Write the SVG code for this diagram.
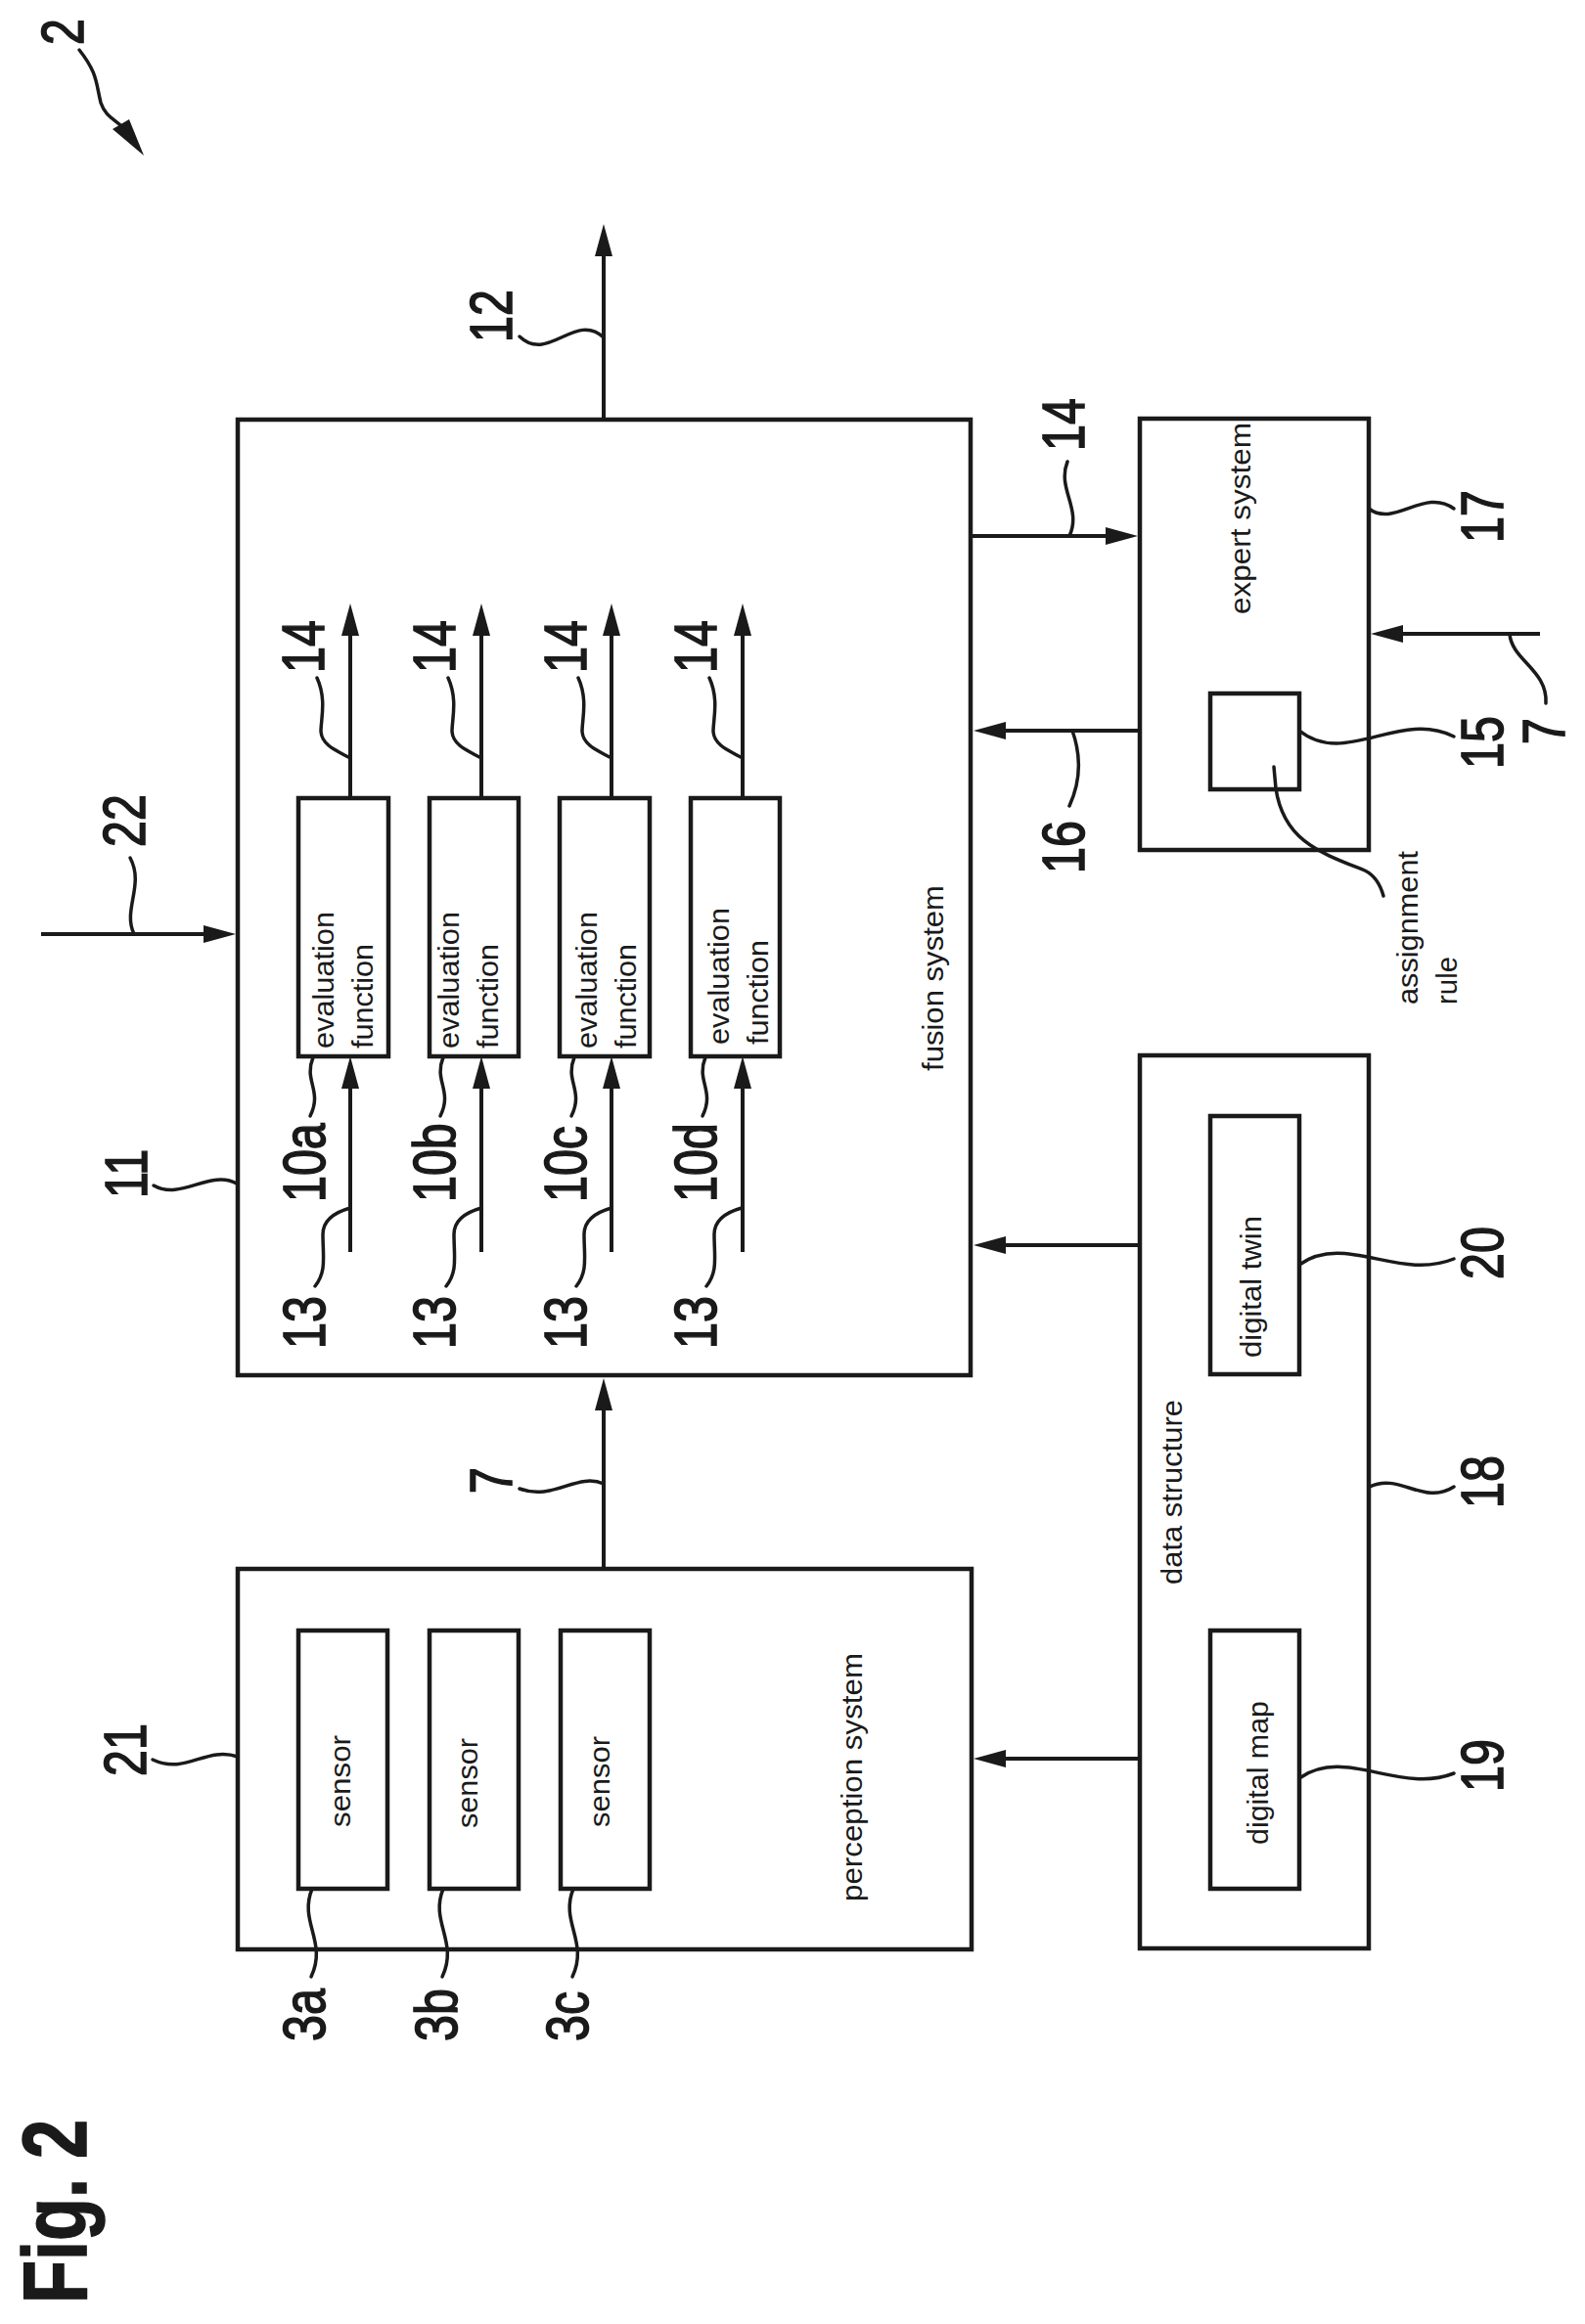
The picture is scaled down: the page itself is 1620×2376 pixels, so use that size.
<svg xmlns="http://www.w3.org/2000/svg" xmlns:xlink="http://www.w3.org/1999/xlink" width="1620" height="2376" viewBox="0 0 1620 2376">
<style>
text{font-family:"Liberation Sans",Arial,sans-serif;fill:#1a1a1a}
.box{fill:none;stroke:#1a1a1a;stroke-width:4.5}
.wire{fill:none;stroke:#1a1a1a;stroke-width:4;marker-end:url(#ah)}
.lead{fill:none;stroke:#1a1a1a;stroke-width:3.5;stroke-linecap:round}
.t{font-size:29px}
.n{font-size:62px;stroke:#1a1a1a;stroke-width:1.6px}
.fig{font-size:92px;font-weight:bold;stroke:#1a1a1a;stroke-width:1.5px}
</style>
<defs>
<marker id="ah" markerUnits="userSpaceOnUse" viewBox="0 0 33 20" refX="25" refY="10" markerWidth="33" markerHeight="20" orient="auto"><path d="M0 1L33 10L0 19Z" fill="#1a1a1a"/></marker>
<path id="l14" class="lead" d="M324 693C334 715 328 735 328 748C329 762 345 768 356 774"/>
<path id="l13" class="lead" d="M358 1235C340 1240 330 1248 330 1262C330 1285 334 1300 322 1315"/>
<path id="l10" class="lead" d="M320 1081C310 1105 330 1115 317 1141"/>
<path id="l3" class="lead" d="M319 1931C305 1965 335 1985 318 2021"/>
</defs>
<rect width="1620" height="2376" fill="#fff"/>

<g id="connectors">
<path class="wire" d="M617 429V237"/>
<path class="wire" d="M617 1604V1417"/>
<path class="wire" d="M42 955H233"/>
<path class="wire" d="M992 548H1155"/>
<path class="wire" d="M1165 747H1003"/>
<path class="wire" d="M1574 648H1409"/>
<path class="wire" d="M1165 1273H1003"/>
<path class="wire" d="M1165 1798H1003"/>
<path class="wire" d="M358 816V625"/><path class="wire" d="M492 816V625"/><path class="wire" d="M625 816V625"/><path class="wire" d="M759 816V625"/>
<path class="wire" d="M358 1280V1088"/><path class="wire" d="M492 1280V1088"/><path class="wire" d="M625 1280V1088"/><path class="wire" d="M759 1280V1088"/>
<path class="lead" d="M81 51C100 75 98 85 103 105C108 120 118 122 125 130"/>
<path d="M115 132L132 122L147 159Z" fill="#1a1a1a"/>
<path class="lead" d="M531 344C560 372 588 318 617 345"/>
<use xlink:href="#l14"/><use xlink:href="#l14" x="134"/><use xlink:href="#l14" x="267"/><use xlink:href="#l14" x="401"/>
<use xlink:href="#l13"/><use xlink:href="#l13" x="134"/><use xlink:href="#l13" x="267"/><use xlink:href="#l13" x="400"/>
<use xlink:href="#l10"/><use xlink:href="#l10" x="133"/><use xlink:href="#l10" x="267"/><use xlink:href="#l10" x="401"/>
<use xlink:href="#l3"/><use xlink:href="#l3" x="134"/><use xlink:href="#l3" x="267"/>
<path class="lead" d="M1093 548C1106 520 1080 500 1091 472"/>
<path class="lead" d="M1096 747C1106 775 1104 800 1093 824"/>
<path class="lead" d="M1399 520C1425 540 1456 498 1486 520"/>
<path class="lead" d="M1328 747C1375 785 1430 725 1486 753"/>
<path class="lead" d="M1543 648C1545 675 1582 685 1580 719"/>
<path class="lead" d="M1302 784L1304 806C1312 860 1350 872 1395 890C1405 895 1411 905 1414 916"/>
<path class="lead" d="M1328 1293C1375 1260 1430 1310 1486 1287"/>
<path class="lead" d="M1328 1818C1375 1785 1430 1835 1486 1813"/>
<path class="lead" d="M1400 1520C1430 1505 1455 1540 1486 1520"/>
<path class="lead" d="M617 1517C590 1505 565 1535 531 1522"/>
<path class="lead" d="M243 1796C210 1785 190 1815 156 1799"/>
<path class="lead" d="M137 955C125 930 148 905 133 877"/>
<path class="lead" d="M157 1212C185 1228 215 1195 242 1210"/>
</g>

<g id="fusion-system"><rect class="box" x="243" y="429" width="749" height="977"/>
<text class="t" textLength="190" lengthAdjust="spacingAndGlyphs" transform="translate(964 1095) rotate(-90)">fusion system</text></g>
<g id="eval-a"><rect class="box" x="305" y="816" width="92" height="264"/>
<text class="t" textLength="140" lengthAdjust="spacingAndGlyphs" transform="translate(341 1072) rotate(-90)">evaluation</text>
<text class="t" textLength="107" lengthAdjust="spacingAndGlyphs" transform="translate(381 1072) rotate(-90)">function</text></g>
<g id="eval-b"><rect class="box" x="439" y="816" width="91" height="264"/>
<text class="t" textLength="140" lengthAdjust="spacingAndGlyphs" transform="translate(469 1072) rotate(-90)">evaluation</text>
<text class="t" textLength="107" lengthAdjust="spacingAndGlyphs" transform="translate(509 1072) rotate(-90)">function</text></g>
<g id="eval-c"><rect class="box" x="572" y="816" width="92" height="264"/>
<text class="t" textLength="140" lengthAdjust="spacingAndGlyphs" transform="translate(610 1072) rotate(-90)">evaluation</text>
<text class="t" textLength="107" lengthAdjust="spacingAndGlyphs" transform="translate(650 1072) rotate(-90)">function</text></g>
<g id="eval-d"><rect class="box" x="706" y="816" width="91" height="264"/>
<text class="t" textLength="140" lengthAdjust="spacingAndGlyphs" transform="translate(745 1068) rotate(-90)">evaluation</text>
<text class="t" textLength="107" lengthAdjust="spacingAndGlyphs" transform="translate(785 1068) rotate(-90)">function</text></g>

<g id="perception-system"><rect class="box" x="243" y="1604" width="750" height="389"/>
<text class="t" textLength="254" lengthAdjust="spacingAndGlyphs" transform="translate(881 1944) rotate(-90)">perception system</text></g>
<g id="sensor-a"><rect class="box" x="305" y="1667" width="91" height="264"/>
<text class="t" textLength="94" lengthAdjust="spacingAndGlyphs" transform="translate(358 1868) rotate(-90)">sensor</text></g>
<g id="sensor-b"><rect class="box" x="439" y="1667" width="91" height="264"/>
<text class="t" textLength="92" lengthAdjust="spacingAndGlyphs" transform="translate(488 1869) rotate(-90)">sensor</text></g>
<g id="sensor-c"><rect class="box" x="573" y="1667" width="91" height="264"/>
<text class="t" textLength="93" lengthAdjust="spacingAndGlyphs" transform="translate(623 1868) rotate(-90)">sensor</text></g>

<g id="expert-system"><rect class="box" x="1165" y="428" width="234" height="441"/>
<text class="t" textLength="196" lengthAdjust="spacingAndGlyphs" transform="translate(1278 628) rotate(-90)">expert system</text></g>
<g id="assignment-rule"><rect class="box" x="1237" y="709" width="91" height="98"/>
<text class="t" textLength="157" lengthAdjust="spacingAndGlyphs" transform="translate(1449 1027) rotate(-90)">assignment</text>
<text class="t" textLength="49" lengthAdjust="spacingAndGlyphs" transform="translate(1489 1027) rotate(-90)">rule</text></g>

<g id="data-structure"><rect class="box" x="1165" y="1079" width="234" height="913"/>
<text class="t" textLength="189" lengthAdjust="spacingAndGlyphs" transform="translate(1208 1620) rotate(-90)">data structure</text></g>
<g id="digital-twin"><rect class="box" x="1237" y="1141" width="91" height="264"/>
<text class="t" textLength="145" lengthAdjust="spacingAndGlyphs" transform="translate(1289 1388) rotate(-90)">digital twin</text></g>
<g id="digital-map"><rect class="box" x="1237" y="1667" width="91" height="264"/>
<text class="t" textLength="147" lengthAdjust="spacingAndGlyphs" transform="translate(1296 1886) rotate(-90)">digital map</text></g>

<g id="labels">
<text class="fig" textLength="188" lengthAdjust="spacingAndGlyphs" transform="translate(88 2355) rotate(-90)">Fig. 2</text>
<text class="n" transform="translate(85 46) rotate(-90) scale(.78 1)">2</text>
<text class="n" transform="translate(523 350) rotate(-90) scale(.78 1)">12</text>
<text class="n" transform="translate(331 688) rotate(-90) scale(.78 1)">14</text>
<text class="n" transform="translate(465 688) rotate(-90) scale(.78 1)">14</text>
<text class="n" transform="translate(599 688) rotate(-90) scale(.78 1)">14</text>
<text class="n" transform="translate(732 688) rotate(-90) scale(.78 1)">14</text>
<text class="n" transform="translate(1108 461) rotate(-90) scale(.78 1)">14</text>
<text class="n" transform="translate(1108 893) rotate(-90) scale(.78 1)">16</text>
<text class="n" transform="translate(1536 555) rotate(-90) scale(.78 1)">17</text>
<text class="n" transform="translate(1536 786) rotate(-90) scale(.78 1)">15</text>
<text class="n" transform="translate(1599 761) rotate(-90) scale(.78 1)">7</text>
<text class="n" transform="translate(523 1527) rotate(-90) scale(.78 1)">7</text>
<text class="n" transform="translate(150 1225) rotate(-90) scale(.78 1)">11</text>
<text class="n" transform="translate(149 1816) rotate(-90) scale(.78 1)">21</text>
<text class="n" transform="translate(148 866) rotate(-90) scale(.78 1)">22</text>
<text class="n" transform="translate(332 1229) rotate(-90) scale(.78 1)">10a</text>
<text class="n" transform="translate(465 1229) rotate(-90) scale(.78 1)">10b</text>
<text class="n" transform="translate(599 1229) rotate(-90) scale(.78 1)">10c</text>
<text class="n" transform="translate(732 1229) rotate(-90) scale(.78 1)">10d</text>
<text class="n" transform="translate(332 1379) rotate(-90) scale(.78 1)">13</text>
<text class="n" transform="translate(465 1379) rotate(-90) scale(.78 1)">13</text>
<text class="n" transform="translate(599 1379) rotate(-90) scale(.78 1)">13</text>
<text class="n" transform="translate(732 1379) rotate(-90) scale(.78 1)">13</text>
<text class="n" transform="translate(332 2087) rotate(-90) scale(.78 1)">3a</text>
<text class="n" transform="translate(467 2087) rotate(-90) scale(.78 1)">3b</text>
<text class="n" transform="translate(601 2087) rotate(-90) scale(.78 1)">3c</text>
<text class="n" transform="translate(1536 1542) rotate(-90) scale(.78 1)">18</text>
<text class="n" transform="translate(1536 1832) rotate(-90) scale(.78 1)">19</text>
<text class="n" transform="translate(1536 1308) rotate(-90) scale(.78 1)">20</text>
</g>
</svg>
